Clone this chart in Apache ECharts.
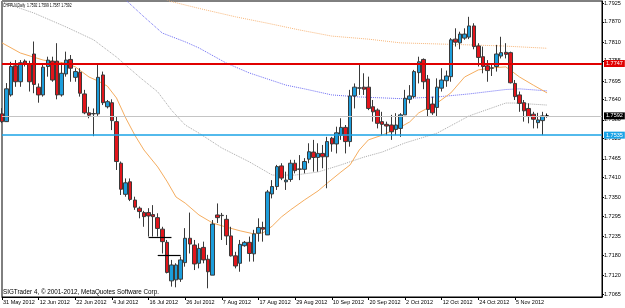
<!DOCTYPE html>
<html>
<head>
<meta charset="utf-8">
<script src="https://cdn.jsdelivr.net/npm/echarts@6/dist/echarts.min.js"></script>
<style>
    html, body { margin: 0; padding: 0; background: #fff; }
    #chart { width: 625px; height: 308px; }
</style>
</head>
<body>
<div id="chart"></div>
<script>
// CHFPLN daily, 31 May 2012 .. 14 Nov 2012, [open, close, low, high]
var candles = [
    [1.7598, 1.7575, 1.7571, 1.7615], [1.7575, 1.7672, 1.7574, 1.7689], [1.7654, 1.7738, 1.7649, 1.7752],
    [1.7740, 1.7693, 1.7678, 1.7757], [1.7693, 1.7749, 1.7678, 1.7757], [1.7754, 1.7745, 1.7738, 1.7759],
    [1.7746, 1.7693, 1.7664, 1.7755], [1.7775, 1.7685, 1.7659, 1.7812], [1.7677, 1.7654, 1.7631, 1.7688],
    [1.7654, 1.7736, 1.7649, 1.7748], [1.7738, 1.7757, 1.7708, 1.7767], [1.7754, 1.7698, 1.7693, 1.7767],
    [1.7754, 1.7654, 1.7641, 1.7807], [1.7654, 1.7718, 1.7649, 1.7749], [1.7716, 1.7757, 1.7708, 1.7782],
    [1.7759, 1.7733, 1.7693, 1.7772], [1.7706, 1.7723, 1.7693, 1.7733], [1.7721, 1.7659, 1.7649, 1.7733],
    [1.7657, 1.7601, 1.7597, 1.7669], [1.7601, 1.7594, 1.7585, 1.7619], [1.7598, 1.7599, 1.7532, 1.7614],
    [1.7598, 1.7706, 1.7592, 1.7746], [1.7713, 1.7631, 1.7624, 1.7723], [1.7619, 1.7634, 1.7614, 1.7639],
    [1.7631, 1.7578, 1.7550, 1.7641], [1.7575, 1.7457, 1.7432, 1.7590], [1.7452, 1.7375, 1.7358, 1.7457],
    [1.7360, 1.7394, 1.7353, 1.7407], [1.7397, 1.7345, 1.7340, 1.7407], [1.7343, 1.7322, 1.7314, 1.7353],
    [1.7319, 1.7309, 1.7289, 1.7324], [1.7306, 1.7294, 1.7264, 1.7311], [1.7306, 1.7296, 1.7235, 1.7319],
    [1.7300, 1.7294, 1.7235, 1.7328], [1.7291, 1.7259, 1.7235, 1.7304], [1.7257, 1.7220, 1.7185, 1.7264],
    [1.7218, 1.7129, 1.7126, 1.7225], [1.7104, 1.7151, 1.7087, 1.7166], [1.7107, 1.7151, 1.7085, 1.7156],
    [1.7109, 1.7166, 1.7101, 1.7176], [1.7158, 1.7230, 1.7146, 1.7260], [1.7230, 1.7213, 1.7185, 1.7306],
    [1.7210, 1.7154, 1.7136, 1.7225], [1.7156, 1.7200, 1.7141, 1.7215], [1.7203, 1.7166, 1.7156, 1.7220],
    [1.7168, 1.7131, 1.7082, 1.7181], [1.7121, 1.7272, 1.7121, 1.7284], [1.7299, 1.7291, 1.7275, 1.7333],
    [1.7297, 1.7298, 1.7225, 1.7305], [1.7286, 1.7237, 1.7210, 1.7299], [1.7237, 1.7178, 1.7176, 1.7264],
    [1.7178, 1.7148, 1.7141, 1.7190], [1.7156, 1.7212, 1.7131, 1.7225], [1.7208, 1.7218, 1.7205, 1.7222],
    [1.7218, 1.7185, 1.7161, 1.7235], [1.7184, 1.7243, 1.7161, 1.7255], [1.7245, 1.7262, 1.7220, 1.7289],
    [1.7262, 1.7257, 1.7220, 1.7279], [1.7240, 1.7367, 1.7240, 1.7373], [1.7361, 1.7383, 1.7348, 1.7402],
    [1.7383, 1.7442, 1.7373, 1.7447], [1.7444, 1.7408, 1.7402, 1.7452], [1.7397, 1.7402, 1.7373, 1.7427],
    [1.7404, 1.7452, 1.7397, 1.7462], [1.7452, 1.7430, 1.7422, 1.7462], [1.7434, 1.7435, 1.7402, 1.7476],
    [1.7434, 1.7457, 1.7422, 1.7467], [1.7464, 1.7486, 1.7452, 1.7511], [1.7485, 1.7469, 1.7427, 1.7521],
    [1.7469, 1.7481, 1.7427, 1.7511], [1.7481, 1.7471, 1.7437, 1.7506], [1.7471, 1.7516, 1.7378, 1.7530],
    [1.7526, 1.7509, 1.7486, 1.7530], [1.7509, 1.7542, 1.7481, 1.7560], [1.7535, 1.7558, 1.7521, 1.7585],
    [1.7558, 1.7516, 1.7481, 1.7565], [1.7516, 1.7651, 1.7501, 1.7669], [1.7651, 1.7677, 1.7614, 1.7688],
    [1.7674, 1.7675, 1.7654, 1.7746], [1.7677, 1.7671, 1.7654, 1.7718], [1.7677, 1.7614, 1.7609, 1.7708],
    [1.7619, 1.7604, 1.7575, 1.7639], [1.7609, 1.7570, 1.7555, 1.7614], [1.7575, 1.7567, 1.7535, 1.7604],
    [1.7567, 1.7562, 1.7535, 1.7575], [1.7565, 1.7545, 1.7521, 1.7595], [1.7552, 1.7565, 1.7535, 1.7600],
    [1.7555, 1.7595, 1.7530, 1.7600], [1.7595, 1.7644, 1.7595, 1.7669], [1.7641, 1.7651, 1.7629, 1.7683],
    [1.7649, 1.7723, 1.7644, 1.7728], [1.7720, 1.7752, 1.7688, 1.7767], [1.7759, 1.7693, 1.7671, 1.7762],
    [1.7701, 1.7611, 1.7590, 1.7713], [1.7627, 1.7601, 1.7595, 1.7649], [1.7617, 1.7677, 1.7590, 1.7703],
    [1.7674, 1.7698, 1.7664, 1.7733], [1.7696, 1.7710, 1.7678, 1.7726], [1.7708, 1.7817, 1.7693, 1.7822],
    [1.7819, 1.7810, 1.7797, 1.7851], [1.7808, 1.7834, 1.7789, 1.7841], [1.7822, 1.7834, 1.7817, 1.7851],
    [1.7825, 1.7858, 1.7819, 1.7885], [1.7858, 1.7797, 1.7789, 1.7866], [1.7799, 1.7765, 1.7738, 1.7807],
    [1.7767, 1.7738, 1.7718, 1.7797], [1.7740, 1.7726, 1.7693, 1.7757], [1.7733, 1.7734, 1.7710, 1.7743],
    [1.7738, 1.7775, 1.7723, 1.7802], [1.7769, 1.7779, 1.7762, 1.7826], [1.7780, 1.7774, 1.7762, 1.7807],
    [1.7779, 1.7690, 1.7688, 1.7782], [1.7688, 1.7649, 1.7639, 1.7698], [1.7654, 1.7629, 1.7604, 1.7664],
    [1.7631, 1.7607, 1.7575, 1.7639], [1.7614, 1.7590, 1.7570, 1.7629], [1.7597, 1.7582, 1.7555, 1.7604],
    [1.7572, 1.7580, 1.7555, 1.7601], [1.7578, 1.7592, 1.7535, 1.7604], [1.7592, 1.7592, 1.7587, 1.7599]
];

// moving averages, [bar index, value]
var maFast = [
    [0, 1.7808], [4, 1.7778], [9, 1.7757], [14, 1.7748], [16, 1.7737], [19, 1.7707], [21, 1.7695],
    [23, 1.7680], [25, 1.7645], [27, 1.7586], [29, 1.7535], [31, 1.7491], [34, 1.7441], [36, 1.7399],
    [38, 1.7352], [40, 1.7334], [43, 1.7299], [46, 1.7275], [49, 1.7263], [52, 1.7252], [55, 1.7243],
    [57, 1.7246], [59, 1.7266], [61, 1.7293], [63, 1.7314], [66, 1.7343], [69, 1.7370], [71, 1.7393],
    [74, 1.7426], [76, 1.7447], [78, 1.7491], [80, 1.7521], [83, 1.7535], [87, 1.7559], [89, 1.7574],
    [91, 1.7601], [95, 1.7630], [98, 1.7660], [101, 1.7707], [104, 1.7728], [107, 1.7734], [110, 1.7737],
    [113, 1.7707], [116, 1.7683], [119, 1.7660]
];
var maSlow = [
    [0, 1.7930], [4, 1.7910], [7, 1.7896], [14, 1.7855], [20, 1.7817], [25, 1.7766], [30, 1.7707],
    [34, 1.7663], [37, 1.7609], [40, 1.7565], [43, 1.7541], [48, 1.7497], [54, 1.7456], [59, 1.7417],
    [64, 1.7417], [69, 1.7426], [74, 1.7447], [79, 1.7470], [83, 1.7485], [88, 1.7512], [95, 1.7541],
    [102, 1.7592], [110, 1.7630], [112, 1.7630], [119, 1.7624]
];
var maMid = [
    [25, 1.7958], [27, 1.7935], [31, 1.7885], [35, 1.7837], [40, 1.7811], [43, 1.7793], [49, 1.7748],
    [54, 1.7719], [58, 1.7701], [62, 1.7683], [66, 1.7672], [72, 1.7654], [78, 1.7648], [87, 1.7643],
    [95, 1.7648], [102, 1.7657], [110, 1.7670], [113, 1.7672], [119, 1.7666]
];
var maLong = [
    [34, 1.7944], [37, 1.7930], [43, 1.7910], [51, 1.7885], [58, 1.7866], [65, 1.7846], [72, 1.7828],
    [80, 1.7819], [87, 1.7808], [102, 1.7802], [109, 1.7799], [119, 1.7792]
];

var priceTicks = ['1.7925', '1.7870', '1.7810', '1.7755', '1.7695', '1.7640', '1.7580', '1.7525',
    '1.7465', '1.7410', '1.7350', '1.7295', '1.7235', '1.7180', '1.7120', '1.7065'];
var dateTicks = ['31 May 2012', '12 Jun 2012', '22 Jun 2012', '4 Jul 2012', '16 Jul 2012', '26 Jul 2012',
    '7 Aug 2012', '17 Aug 2012', '29 Aug 2012', '10 Sep 2012', '20 Sep 2012', '2 Oct 2012',
    '12 Oct 2012', '24 Oct 2012', '5 Nov 2012'];

var resistance = 1.7747;
var support = 1.7535;
var bid = 1.7592;
// two short horizontal segments, [from bar, to bar, price]
var segments = [[32, 37, 1.7233], [34, 39, 1.7180]];

var slots = 132; // bars plus empty shift area on the right
var cats = [];
for (var i = 0; i < slots; i++) cats.push(String(i));

var font = 'Liberation Sans';
var last = candles[candles.length - 1];

function showDate(idx) {
    return idx % 8 === 0 && idx / 8 < dateTicks.length;
}

function priceLine(v, lineColor, width, boxColor) {
    return {
        yAxis: v,
        lineStyle: { color: lineColor, width: width, type: 'solid' },
        label: {
            show: true,
            position: 'end',
            distance: 2,
            formatter: v.toFixed(4),
            color: '#fff',
            backgroundColor: boxColor,
            padding: [1, 2, 0, 2],
            fontSize: 5.5,
            fontFamily: font
        }
    };
}

function segment(s) {
    return [
        { coord: [s[0], s[2]], lineStyle: { color: '#000', width: 1.2, type: 'solid' }, label: { show: false } },
        { coord: [s[1], s[2]] }
    ];
}

function maSeries(data, color, type) {
    return {
        type: 'line',
        data: data,
        showSymbol: false,
        silent: true,
        smooth: false,
        lineStyle: { color: color, width: 1, type: type },
        z: 1
    };
}

var chart = echarts.init(document.getElementById('chart'), null, { renderer: 'canvas' });

var option = {
    backgroundColor: '#fff',
    animation: false,
    graphic: [{
        type: 'text',
        left: 3,
        top: 2,
        scaleX: 0.62,
        z: 10,
        style: {
            text: 'CHFPLN,Daily  ' + last[0].toFixed(4) + ' ' + last[3].toFixed(4) + ' ' +
                last[2].toFixed(4) + ' ' + last[1].toFixed(4),
            fontSize: 5.5,
            fontFamily: font,
            fill: '#000'
        }
    }, {
        type: 'text',
        left: 3,
        top: 289,
        z: 10,
        style: {
            text: 'SIGTrader 4, \u00a9 2001-2012, MetaQuotes Software Corp.',
            fontSize: 6.3,
            fontFamily: font,
            fill: '#000'
        }
    }],
    grid: {
        left: 2,
        right: 23,
        top: 1,
        bottom: 11,
        show: true,
        borderColor: '#000',
        borderWidth: 1,
        backgroundColor: '#fff'
    },
    xAxis: {
        type: 'category',
        data: cats,
        boundaryGap: false,
        axisLine: { lineStyle: { color: '#000', width: 1 } },
        axisTick: {
            show: true,
            length: 3,
            interval: function(idx) { return showDate(idx); },
            lineStyle: { color: '#000' }
        },
        axisLabel: {
            interval: function(idx) { return showDate(idx); },
            formatter: function(v, idx) { return dateTicks[idx / 8] || ''; },
            align: 'left',
            margin: 2,
            padding: [0, 0, 0, 1],
            fontSize: 5.5,
            fontFamily: font,
            color: '#000'
        },
        splitLine: { show: false }
    },
    yAxis: {
        type: 'value',
        position: 'right',
        min: 1.70563,
        max: 1.79318,
        axisLine: { show: true, lineStyle: { color: '#000', width: 1 } },
        axisTick: {
            show: true,
            length: 2,
            customValues: priceTicks.map(Number),
            lineStyle: { color: '#000' }
        },
        axisLabel: {
            customValues: priceTicks.map(Number),
            formatter: function(v) { return v.toFixed(4); },
            margin: 2,
            fontSize: 5.5,
            fontFamily: font,
            color: '#000'
        },
        splitLine: { show: false }
    },
    series: [
        maSeries(maLong, '#f7b67a', 'dotted'),
        maSeries(maMid, '#6c6cf2', 'dotted'),
        maSeries(maSlow, '#a8a8a8', 'dotted'),
        maSeries(maFast, '#f5ad5f', 'solid'),
        {
            type: 'candlestick',
            data: candles,
            barWidth: 4,
            itemStyle: {
                color: '#1c9ddb',
                color0: '#e2151b',
                borderColor: '#3a3a3a',
                borderColor0: '#3a3a3a',
                borderColorDoji: '#000',
                borderWidth: 1
            },
            markLine: {
                symbol: 'none',
                silent: true,
                animation: false,
                precision: 4,
                data: [
                    priceLine(bid, '#c4c4c4', 1, '#000'),
                    priceLine(support, '#1aa3e6', 1.5, '#1aa3e6'),
                    priceLine(resistance, '#e00000', 1.8, '#e00000')
                ].concat(segments.map(segment))
            },
            z: 4
        }
    ]
};

chart.setOption(option);
</script>
</body>
</html>
